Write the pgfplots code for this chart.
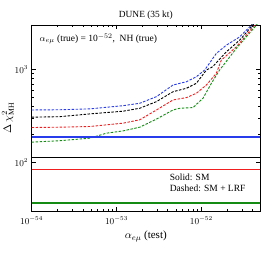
\documentclass[border=0pt]{standalone}
\usepackage{fontspec}
\setmainfont{Liberation Serif}
\usepackage{pgfplots}
\pgfplotsset{compat=1.18}
\definecolor{cblue}{RGB}{40,60,235}
\definecolor{cred}{RGB}{240,30,30}
\definecolor{cgreen}{RGB}{20,140,20}
\begin{document}
\begin{tikzpicture}
\begin{axis}[
  scale only axis,
  width=228.3pt, height=186pt,
  xmode=log, ymode=log,
  xmin=1e-54, xmax=4.9e-52,
  ymin=30, ymax=3000,
  ytick={100,1000},
  tick label style={font=\fontsize{9}{10}\selectfont},
  xticklabel style={yshift=-2pt},
  tick align=inside,
  major tick length=4pt, minor tick length=2.2pt,
  every tick/.style={black, line width=0.4pt},
  axis line style={line width=0.6pt},
  title={DUNE (35 kt)},
  title style={font=\fontsize{9.4}{10}\selectfont, yshift=-4pt},
  xlabel={$\alpha_{e\mu}$ (test)},
  ylabel={$\Delta\,\chi^2_{\rm MH}$},
  xlabel style={font=\fontsize{11}{12}\selectfont, yshift=0pt},
  ylabel style={font=\fontsize{11}{12}\selectfont, yshift=-6pt},
  clip=true,
]
% dashed SM+LRF
\addplot[color=cblue, line width=0.9pt, dash pattern=on 2.5pt off 1.5pt] coordinates {
(1e-54,366) (2.15e-54,368) (4.85e-54,376) (1.197e-53,407) (1.879e-53,432)
(2.958e-53,509) (4.634e-53,679) (6.668e-53,736) (8.73e-53,833) (1.094e-52,984)
(1.5e-52,1483) (1.968e-52,1820) (2.825e-52,2233) (3.87e-52,2980) (4.2e-52,3300)};
\addplot[color=black, line width=0.9pt, dash pattern=on 2.5pt off 1.5pt] coordinates {
(1e-54,306) (2.15e-54,310) (4.85e-54,332) (1.197e-53,355) (1.879e-53,382)
(2.958e-53,450) (4.634e-53,575) (6.668e-53,626) (8.73e-53,708) (1.146e-52,984)
(1.358e-52,1066) (1.968e-52,1542) (2.825e-52,2060) (4.02e-52,2980) (4.4e-52,3300)};
\addplot[color=cred, line width=0.9pt, dash pattern=on 2.5pt off 1.5pt] coordinates {
(1e-54,237) (2.15e-54,239) (4.85e-54,243) (1.197e-53,264) (1.879e-53,287)
(2.958e-53,366) (4.634e-53,469) (6.668e-53,497) (8.73e-53,553) (1.146e-52,679)
(1.5e-52,906) (1.718e-52,1258) (2.58e-52,1745) (4.24e-52,2980) (4.6e-52,3300)};
\addplot[color=cgreen, line width=0.9pt, dash pattern=on 2.5pt off 1.5pt] coordinates {
(1e-54,165) (2.15e-54,171) (4.85e-54,182) (7.62e-54,206) (1.197e-53,218)
(1.879e-53,239) (2.958e-53,292) (4.634e-53,366) (5.56e-53,382) (7.96e-53,388)
(1.045e-52,489) (1.312e-52,708) (1.641e-52,984) (2.58e-52,1680) (4.44e-52,2980) (4.8e-52,3300)};
% solid SM lines
\addplot[draw=cblue, line width=1.4pt] table[row sep=\\] {x y\\ 1e-54 188\\ 5e-52 188\\};
\addplot[draw=black, line width=1.4pt] table[row sep=\\] {x y\\ 1e-54 113\\ 5e-52 113\\};
\addplot[draw=cred, line width=1.6pt] table[row sep=\\] {x y\\ 1e-54 84\\ 5e-52 84\\};
\addplot[draw=cgreen, line width=1.6pt] table[row sep=\\] {x y\\ 1e-54 36.4\\ 5e-52 36.4\\};
\node[anchor=west, font=\fontsize{9.5}{10}\selectfont] at (rel axis cs:0.02,0.925)
  {$\alpha_{e\mu}$ (true) = 10$^{-52}$,~~NH (true)};
\node[anchor=west, font=\fontsize{9.5}{11}\selectfont, align=left] at (rel axis cs:0.59,0.15)
  {Solid: SM\\Dashed: SM + LRF};
\end{axis}
\pgfresetboundingbox
\path[use as bounding box] ([xshift=-31.7pt,yshift=-46pt]current axis.south west) rectangle ([xshift=14pt,yshift=25pt]current axis.north east);
\end{tikzpicture}
\end{document}
